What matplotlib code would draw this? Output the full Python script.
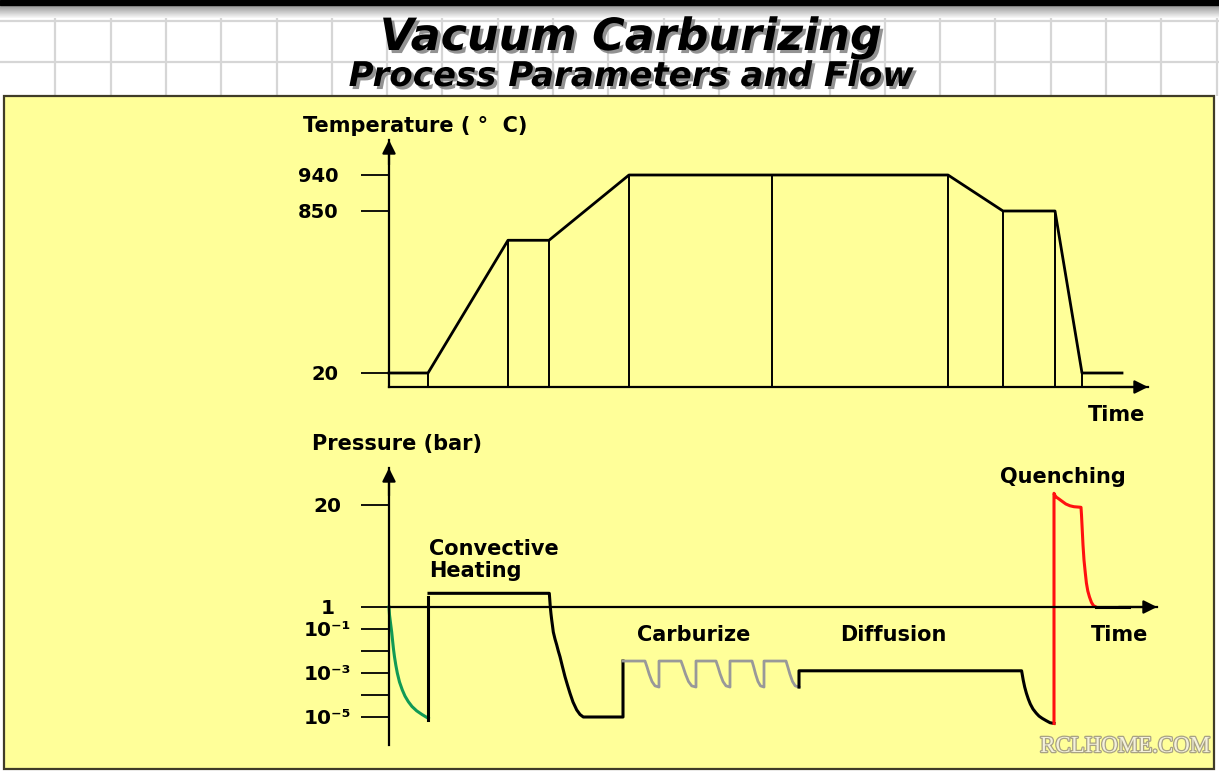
import numpy as np
import matplotlib
matplotlib.use("Agg")
import matplotlib.pyplot as plt
import matplotlib.patheffects as pe
from matplotlib.patches import Rectangle
from matplotlib.ticker import NullLocator

# ---------------- data ----------------
# temperature programme (time in arbitrary units, temperature in deg C)
temp_time = [0, 3.9, 11.9, 16.0, 24.0, 55.9, 61.4, 66.6, 69.3, 73.3]
temp_value = [20, 20, 700, 700, 940, 940, 850, 850, 20, 20]
stage_bounds = [3.9, 11.9, 16.0, 24.0, 38.3, 55.9, 61.4, 66.6, 69.3]
temp_ticks = [20, 850, 940]
temp_tick_labels = ["20", "850", "940"]

# pressure traces (bar)
pump_time = [0, 0.05, 0.15, 0.27, 0.35, 0.45, 0.55, 0.68, 0.83, 1.05, 1.33,
             1.6, 1.93, 2.3, 2.77, 3.3, 3.93]
pump_p = [1.0, 0.44, 0.19, 0.072, 0.032, 0.012, 5.4e-3, 2.3e-3, 1.0e-3,
          3.9e-4, 1.7e-4, 8.9e-5, 5.0e-5, 3.0e-5, 1.9e-5, 1.3e-5, 8.7e-6]

backfill_time = [3.85, 3.85]
backfill_p = [7e-6, 2.9]

conv_time = [4.0, 16.03, 16.08, 16.13, 16.2, 16.27, 16.35, 16.43, 16.6, 16.77,
             16.93, 17.1, 17.35, 17.6, 17.85, 18.1, 18.4, 18.77, 19.1, 19.43,
             19.77, 23.4, 23.4]
conv_p = [3.55, 3.55, 2.3, 1.0, 0.48, 0.26, 0.14, 0.073, 0.035, 0.019, 0.01,
          5.5e-3, 1.9e-3, 6.8e-4, 2.8e-4, 1.2e-4, 4.8e-5, 2.1e-5, 1.3e-5,
          1.0e-5, 1.0e-5, 1.0e-5, 3.5e-3]

carb_time = [23.4,
             25.6, 25.8, 26.02, 26.3, 26.6, 27.0, 27.0,
             29.2, 29.41, 29.65, 29.95, 30.27, 30.7, 30.7,
             32.7, 32.9, 33.12, 33.4, 33.7, 34.1, 34.1,
             36.3, 36.47, 36.66, 36.9, 37.15, 37.5, 37.5,
             39.7, 39.88, 40.09, 40.35, 40.62, 41.0]
carb_p = [3.5e-3,
          3.5e-3, 1.9e-3, 8.9e-4, 4.1e-4, 2.6e-4, 2.3e-4, 3.5e-3,
          3.5e-3, 1.9e-3, 8.9e-4, 4.1e-4, 2.6e-4, 2.3e-4, 3.5e-3,
          3.5e-3, 1.9e-3, 8.9e-4, 4.1e-4, 2.6e-4, 2.3e-4, 3.5e-3,
          3.5e-3, 1.9e-3, 8.9e-4, 4.1e-4, 2.6e-4, 2.3e-4, 3.5e-3,
          3.5e-3, 1.9e-3, 8.9e-4, 4.1e-4, 2.6e-4, 2.3e-4]

diff_time = [41.0, 41.0, 63.26, 63.33, 63.42, 63.57, 63.74, 63.93, 64.13,
             64.4, 64.72, 65.0, 65.32, 65.7, 66.1, 66.5]
diff_p = [2.3e-4, 1.26e-3, 1.26e-3, 8.3e-4, 4.8e-4, 2.3e-4, 1.2e-4, 6.6e-5,
          3.9e-5, 2.3e-5, 1.5e-5, 1.1e-5, 8.7e-6, 6.9e-6, 5.5e-6, 5.1e-6]

quench_time = [66.5, 66.5, 66.6, 66.75, 66.9, 67.2, 67.68, 68.1, 68.5, 69.2,
               69.25, 69.34, 69.4, 69.5, 69.62, 69.74, 69.88, 70.05, 70.25,
               70.45, 70.7]
quench_p = [5.1e-6, 22.18, 21.77, 21.43, 21.25, 20.84, 20.19, 19.85, 19.68,
            19.57, 18.13, 14.79, 12.55, 9.75, 7.52, 5.47, 3.98, 2.86, 1.84,
            1.24, 1.0]

end_time = [70.7, 74.0]
end_p = [1.0, 1.0]

press_ticks = [1e-5, 1e-3, 1e-1, 1, 20]
press_tick_labels = ["10\u207b\u2075", "10\u207b\u00b3", "10\u207b\u00b9", "1", "20"]
press_minor = [1e-4, 1e-2]

# ---------------- figure ----------------
W, H = 1219, 772
fig = plt.figure(figsize=(W / 100, H / 100), dpi=100, facecolor="white")

bg = fig.add_axes([0, 0, 1, 1])
bg.set_xlim(0, W)
bg.set_ylim(H, 0)
bg.axis("off")

# header strip: dark rule with soft shading, then a light grid
grad = np.linspace(0.55, 0.97, 30).reshape(-1, 1)
bg.imshow(grad, extent=(0, W, 18, 4.5), cmap="gray", vmin=0, vmax=1,
          aspect="auto", zorder=1)
bg.add_patch(Rectangle((0, 0), W, 4.5, color="black", zorder=2))
bg.vlines(np.arange(1, 23) * 55.3, 18, 96, color="#d6d6d6", lw=1.6, zorder=1)
bg.hlines([21, 62], 0, W, color="#d6d6d6", lw=1.6, zorder=1)
bg.set_xlim(0, W)
bg.set_ylim(H, 0)

# yellow panel
bg.add_patch(Rectangle((4, 96), 1210, 673, facecolor="#ffff99",
                       edgecolor="#403c28", lw=1.6, zorder=3))

shadow = [pe.withSimplePatchShadow(offset=(2.2, -2.2), shadow_rgbFace="#777777",
                                   alpha=0.8)]
bg.text(631, 50, "Vacuum Carburizing", ha="center", va="baseline",
        fontsize=32, fontweight="bold", style="italic", color="black",
        path_effects=shadow, zorder=5)
bg.text(631, 86, "Process Parameters and Flow", ha="center", va="baseline",
        fontsize=24.5, fontweight="bold", style="italic", color="black",
        path_effects=shadow, zorder=5)

label_kw = dict(fontsize=15, fontweight="bold", color="black", va="baseline",
                zorder=5)
bg.text(303, 132, "Temperature ( \u00b0  C)", ha="left", **label_kw)
bg.text(1117, 421, "Time", ha="center", **label_kw)
bg.text(312, 450, "Pressure (bar)", ha="left", **label_kw)
bg.text(429, 555, "Convective", ha="left", **label_kw)
bg.text(429, 577, "Heating", ha="left", **label_kw)
bg.text(694, 641, "Carburize", ha="center", **label_kw)
bg.text(893, 641, "Diffusion", ha="center", **label_kw)
bg.text(1120, 641, "Time", ha="center", **label_kw)
bg.text(1063, 483, "Quenching", ha="center", **label_kw)

bg.text(1125, 752, "RCLHOME.COM", ha="center", va="baseline", fontsize=16.5,
        family="Liberation Serif", color="#f4f1dc", zorder=6,
        path_effects=[pe.Stroke(linewidth=1.8, foreground="#a8a285"), pe.Normal()])


def piecewise(vals, pos):
    vals = np.asarray(vals, float)
    pos = np.asarray(pos, float)
    lo = (pos[1] - pos[0]) / (vals[1] - vals[0])
    hi = (pos[-1] - pos[-2]) / (vals[-1] - vals[-2])
    span = 1e5
    v = np.r_[vals[0] - span, vals, vals[-1] + span]
    p = np.r_[pos[0] - span * lo, pos, pos[-1] + span * hi]
    return (lambda x: np.interp(np.asarray(x, float), v, p),
            lambda y: np.interp(np.asarray(y, float), p, v))


def axis_arrow(ax, xy, xytext, coords):
    ax.annotate("", xy=xy, xytext=xytext, xycoords=coords, textcoords=coords,
                arrowprops=dict(arrowstyle="-|>", color="black", lw=1.6,
                                shrinkA=0, shrinkB=0, mutation_scale=20),
                annotation_clip=False)


def fig_rect(x0, y0, x1, y1):
    return [x0 / W, 1 - y1 / H, (x1 - x0) / W, (y1 - y0) / H]


# ---------------- temperature chart ----------------
ax_t = fig.add_axes(fig_rect(389, 140, 1148, 387))
ax_t.patch.set_visible(False)
t_fwd, t_inv = piecewise(temp_ticks, [14, 176, 212])
ax_t.set_yscale("function", functions=(t_fwd, t_inv))
t_bottom = float(t_inv(0))
ax_t.set_ylim(t_bottom, float(t_inv(247)))
ax_t.set_xlim(0, 75.9)

for s in ("top", "right"):
    ax_t.spines[s].set_visible(False)
for s in ("left", "bottom"):
    ax_t.spines[s].set_linewidth(1.6)
ax_t.set_xticks([])
ax_t.set_yticks(temp_ticks, temp_tick_labels, fontsize=14, fontweight="bold")
ax_t.yaxis.set_minor_locator(NullLocator())
ax_t.tick_params(axis="y", direction="out", length=20, width=1.3, pad=16.5)

ax_t.vlines(stage_bounds, t_bottom, np.interp(stage_bounds, temp_time, temp_value),
            color="black", lw=1.4)
ax_t.plot(temp_time, temp_value, color="black", lw=2.0, clip_on=False)

axis_arrow(ax_t, (0, 1), (0, 0.9), "axes fraction")
axis_arrow(ax_t, (1, 0), (0.95, 0), "axes fraction")

# ---------------- pressure chart ----------------
K_ABOVE = (102 / 22) / 19


def p_fwd(p):
    p = np.asarray(p, float)
    with np.errstate(divide="ignore", invalid="ignore"):
        lg = np.log10(np.where(p > 0, p, 1e-300))
    return np.where(p <= 1, lg, (p - 1) * K_ABOVE)


def p_inv(y):
    y = np.asarray(y, float)
    return np.where(y <= 0, 10.0 ** np.minimum(y, 0), 1 + np.maximum(y, 0) / K_ABOVE)


ax_p = fig.add_axes(fig_rect(389, 468, 1157, 745))
ax_p.patch.set_visible(False)
ax_p.set_yscale("function", functions=(p_fwd, p_inv))
ax_p.set_ylim(float(p_inv(-138 / 22)), float(p_inv(139 / 22)))
ax_p.set_xlim(0, 76.8)

for s in ("top", "right"):
    ax_p.spines[s].set_visible(False)
for s in ("left", "bottom"):
    ax_p.spines[s].set_linewidth(1.6)
ax_p.spines["bottom"].set_position(("data", 1.0))
ax_p.set_xticks([])
ax_p.set_yticks(press_ticks, press_tick_labels, fontsize=14.5,
                fontweight="bold", ha="center")
ax_p.set_yticks(press_minor, minor=True)
ax_p.tick_params(axis="y", which="both", direction="out", length=20,
                 width=1.3, pad=24.5)

ax_p.plot(pump_time, pump_p, color="#119a55", lw=2.2, clip_on=False)
ax_p.plot(backfill_time, backfill_p, color="black", lw=2.2, clip_on=False)
ax_p.plot(conv_time, conv_p, color="black", lw=2.2, clip_on=False)
ax_p.plot(carb_time, carb_p, color="#999999", lw=2.0, clip_on=False)
ax_p.plot(diff_time, diff_p, color="black", lw=2.2, clip_on=False)
ax_p.plot(quench_time, quench_p, color="#ff1010", lw=2.2, clip_on=False)
ax_p.plot(end_time, end_p, color="black", lw=2.2, clip_on=False)

axis_arrow(ax_p, (0, 1), (0, 0.9), "axes fraction")
axis_arrow(ax_p, (1, 1.0), (0.95, 1.0), ("axes fraction", "data"))

fig.savefig("out.png", dpi=100, facecolor="white")
